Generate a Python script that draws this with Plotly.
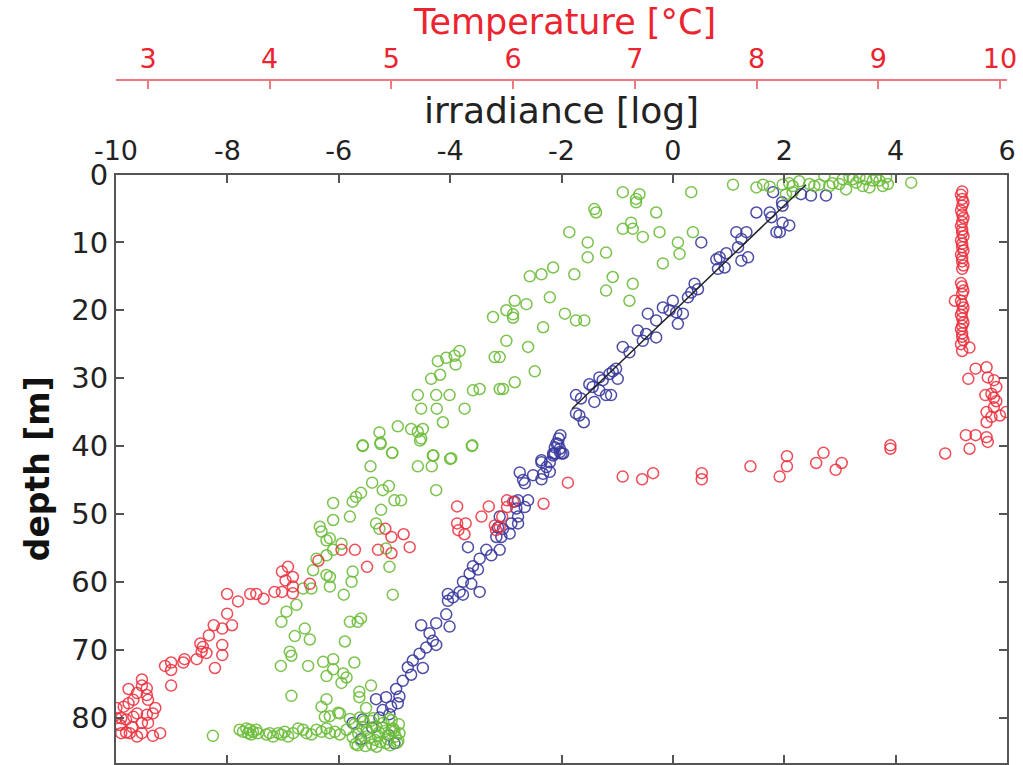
import plotly.graph_objects as go

# ---------------- data ----------------
irr_ticks = [-10, -8, -6, -4, -2, 0, 2, 4, 6]
temp_ticks = [3, 4, 5, 6, 7, 8, 9, 10]
depth_ticks = [0, 10, 20, 30, 40, 50, 60, 70, 80]

blue_irr = [1.80, 2.30, 2.48, 2.75, 1.96, 1.97, 1.50, 1.74, 1.77, 1.97, 2.09, 1.86, 1.92, 0.51, 1.14, 1.32,
            1.23, 1.17, 1.35, 1.23, 0.78, 0.84, 0.96, 0.81, 0.93, 0.39, 0.45, 0.33, 0.27, 0.00, -0.18, -0.06,
            0.06, 0.18, -0.45, -0.30, 0.09, -0.63, -0.48, -0.54, -0.30, -0.90, -0.78, -1.02, -1.08, -1.14,
            -1.32, -1.26, -0.99, -1.50, -1.44, -1.32, -1.74, -1.65, -1.20, -1.11, -1.41, -1.74, -1.68, -1.60,
            -2.02, -2.05, -2.09, -2.12, -2.03, -2.15, -1.97, -2.36,
            -2.06, -2.03, -2.12, -2.00, -2.15, -2.21, -2.36, -2.27, -2.21, -2.33, -2.75, -2.69, -2.66, -2.51,
            -2.36, -2.78, -2.60, -2.84, -2.66, -2.81, -2.78, -2.78, -2.90, -3.05, -2.93, -3.08, -3.11,
            -3.11, -3.14, -3.17, -3.68, -3.35, -3.26, -3.47, -3.59, -3.50, -3.65, -3.77, -3.62, -3.47, -3.83,
            -4.04, -4.04, -3.77, -3.95, -4.07, -4.01, -4.25, -4.52, -4.37, -4.31, -4.43, -4.25, -4.55, -4.67,
            -4.49, -4.76, -4.70, -4.85, -4.97, -4.91, -5.15, -5.33, -5.06, -4.94, -5.21, -5.09, -5.27, -5.57,
            -5.75, -5.40, -5.10, -5.60, -5.00]
blue_depth = [2.6, 2.9, 3.1, 3.1, 4.1, 4.6, 5.6, 5.6, 6.3, 7.1, 7.5, 8.5, 8.5, 10.0, 8.5, 8.5,
              9.5, 10.7, 12.2, 12.7, 12.5, 12.2, 11.6, 13.9, 13.7, 16.1, 16.9, 17.4, 18.1, 18.6, 19.6, 20.0,
              20.3, 20.5, 20.5, 21.5, 22.0, 23.0, 23.5, 24.5, 24.0, 25.4, 26.2, 28.6, 29.0, 29.4,
              29.9, 30.3, 30.1, 30.9, 31.3, 31.8, 32.5, 33.0, 32.5, 32.5, 33.5, 35.2, 35.5, 36.5,
              38.4, 38.9, 39.6, 40.2, 40.9, 41.1, 41.1, 42.1,
              39.7, 40.4, 41.1, 41.1, 41.4, 42.4, 42.4, 43.1, 43.8, 44.1, 43.9, 45.0, 45.5, 44.3,
              44.9, 48.0, 48.0, 48.2, 49.0, 49.2, 50.4, 51.4, 51.4, 52.2, 52.9, 53.4, 55.3,
              50.4, 52.0, 53.4, 54.9, 55.3, 56.1, 56.6, 57.7, 58.2, 58.8, 60.0, 60.3, 61.5, 61.5,
              61.8, 62.8, 61.9, 62.3, 64.8, 66.6, 66.1, 66.4, 67.6, 68.7, 69.7, 69.3, 70.6, 71.6,
              72.7, 72.6, 73.7, 74.6, 75.8, 76.9, 77.0, 77.3, 78.4, 77.9, 78.9, 79.5, 80.0, 80.3,
              80.8, 81.5, 82.6, 83.2, 83.8]

green_irr = [1.08, 1.50, 1.62, 1.74, 1.97, 2.09, 2.15, 2.27, 2.15, 2.03, 2.54, 2.63, 2.72, 2.81, 2.87, 3.11,
             3.05, 3.17, 3.23, 3.29, 3.35, 3.47, 3.53, 3.59, 3.65, 3.71, 3.77, 3.83, 3.86, 4.28, 2.99, 3.41, 2.45,
             -0.90, -0.60, -0.66, -0.66, -1.41, -1.38, 0.33, -0.30, -0.75, -0.90, -0.72, -0.54, -0.24, 0.36,
             -1.86, -1.53, 0.09, 0.12, -1.20, -1.53, -0.18, -2.15, -2.36, -2.57, -1.77, -1.08, -0.72, -1.20,
             -0.78, -2.21, -2.63, -2.84, -2.99, -2.87, -2.87, -1.94, -1.74, -1.59, -2.33, -2.99, -2.60, -3.11,
             -2.48, -2.84, -3.05,
             -3.23, -3.20, -3.11, -3.83, -3.92, -4.07, -4.22, -3.90, -4.34, -4.18, -4.58, -4.25, -4.01, -4.52,
             -4.24, -3.74, -3.59, -3.47, -4.13, -4.94, -4.70, -4.58, -4.49, -4.52, -5.27, -5.25, -5.57, -5.04,
             -4.31, -3.98, -3.61,
             -5.57, -5.25, -5.04, -4.54, -4.30, -4.00, -3.60, -5.43, -4.58, -4.33, -5.40, -5.21, -5.10, -4.25,
             -5.60, -5.69, -5.75, -6.10, -5.00, -4.88, -5.24, -5.80, -6.10, -6.34, -6.31, -6.16, -5.95, -6.22,
             -6.10, -6.22, -6.40, -5.15, -5.33, -5.27, -5.09, -6.46, -6.22, -6.16, -5.75, -5.77, -6.64, -6.49,
             -6.16, -5.91, -5.03, -6.76, -6.94, -7.03, -5.80, -5.66, -5.60, -6.61, -6.79, -6.52, -5.89, -6.88,
             -6.85, -7.04, -6.55, -6.28, -6.10, -5.72, -6.10, -6.22, -5.92, -5.86, -5.95, -5.42, -5.63, -5.63,
             -6.85, -6.22, -6.31, -5.98, -5.51, -6.16, -6.25, -6.01,
             -8.26, -7.78, -7.72, -7.66, -7.60, -7.54, -7.48, -7.63, -7.57, -7.45, -7.30, -7.24, -7.18, -7.09,
             -7.03, -6.97, -6.91, -6.82, -6.73, -6.64, -6.58, -6.49, -6.40, -6.31, -6.22, -6.16, -6.07, -5.98,
             -5.86,
             -5.80, -5.72, -5.65, -5.60, -5.55, -5.50, -5.45, -5.40, -5.38, -5.33, -5.30, -5.25, -5.20, -5.17,
             -5.12, -5.08, -5.05, -5.02, -4.98, -4.95, -4.92, -4.91, -5.70, -5.62, -5.48, -5.35, -5.22, -5.10,
             -5.00, -4.93, -5.75, -5.58, -5.42, -5.28, -5.15, -5.05, -5.66, -5.52, -5.32]
green_depth = [1.5, 1.9, 1.5, 1.8, 1.5, 1.3, 1.7, 1.0, 2.6, 2.9, 1.7, 1.5, 0.2, 1.7, 1.3, 2.2,
               0.7, 0.3, 0.7, 1.2, 0.4, 0.7, 1.9, 0.9, 0.3, 0.9, 1.7, 0.4, 1.4, 1.2, 1.4, 1.7, 1.4,
               2.6, 2.9, 3.6, 4.1, 5.1, 5.6, 2.6, 5.6, 7.1, 8.0, 8.0, 9.2, 8.5, 8.5,
               8.5, 10.0, 10.0, 11.7, 11.5, 12.2, 13.1, 13.7, 14.7, 15.0, 14.7, 15.1, 16.1, 17.1,
               18.6, 18.1, 19.1, 18.6, 20.0, 20.6, 21.1, 20.5, 21.5, 21.5, 22.5, 24.5, 25.4, 26.9,
               29.0, 30.6, 31.6,
               21.0, 26.9, 31.6, 26.0, 26.7, 27.0, 27.5, 28.0, 30.1, 29.5, 32.5, 32.5, 32.5, 34.5,
               34.5, 34.5, 31.8, 31.6, 36.5, 37.1, 37.5, 37.9, 37.5, 38.9, 38.0, 39.5, 40.0, 41.0,
               41.4, 41.8, 40.0,
               39.9, 39.7, 41.0, 39.2, 41.4, 41.9, 39.9, 43.0, 43.0, 43.0, 45.4, 46.5, 45.9, 46.5,
               46.9, 47.5, 48.2, 48.4, 48.0, 48.0, 49.4, 50.4, 50.9, 51.9, 52.6, 53.6, 54.4, 53.9,
               55.3, 56.1, 56.6, 55.1, 51.4, 52.2, 57.8, 58.3, 59.0, 59.3, 58.5, 60.0, 61.0, 61.0,
               60.7, 61.9, 61.9, 63.4, 64.4, 65.9, 65.9, 65.9, 65.4, 66.9, 68.0, 68.5, 68.8, 70.3,
               70.9, 72.4, 72.4, 71.8, 71.4, 71.9, 72.9, 73.9, 73.5, 74.1, 74.9, 75.3, 76.2, 77.0,
               76.8, 77.3, 78.4, 79.4, 78.6, 79.8, 79.9, 79.3,
               82.7, 81.8, 82.1, 81.6, 81.8, 82.1, 81.8, 82.3, 82.5, 82.3, 82.5, 82.3, 82.8, 82.3,
               82.5, 82.1, 82.8, 82.3, 81.6, 81.8, 82.3, 82.5, 81.8, 82.1, 81.6, 82.3, 82.1, 82.5,
               81.8,
               80.2, 81.0, 82.4, 83.5, 80.6, 81.8, 83.0, 84.0, 80.1, 81.3, 82.6, 83.6, 80.8, 82.0,
               83.2, 84.1, 80.4, 81.6, 82.8, 83.7, 81.0, 82.3, 83.9, 80.0, 82.2, 83.3, 81.5, 80.2,
               82.0, 83.4, 82.9, 81.4, 80.5, 82.2, 83.8, 81.9, 84.1, 84.2, 84.3]

red_temp = [9.69, 9.68, 9.69, 9.70, 9.69, 9.68, 9.69, 9.70, 9.69, 9.68, 9.69, 9.69, 9.70, 9.68, 9.69, 9.69,
            9.70, 9.68, 9.69, 9.69, 9.70, 9.69, 9.68, 9.69, 9.70, 9.69, 9.68, 9.69, 9.70, 9.69, 9.68, 9.69,
            9.70, 9.69, 9.68, 9.69, 9.69, 9.70, 9.68, 9.69, 9.63, 9.75,
            9.80, 9.89, 9.74, 9.90, 9.95, 9.97, 9.93, 9.95, 9.97, 9.88, 9.95, 9.89, 9.93, 10.00, 10.05,
            9.89, 9.72, 9.80, 9.89, 9.90, 9.75, 9.55, 9.10, 9.10, 8.55, 8.25,
            8.49, 8.70, 8.65, 8.25, 8.19, 7.95, 7.55, 7.55, 7.15, 7.06, 6.90, 6.45, 6.25, 6.00, 5.95, 5.95,
            5.91, 5.89,
            5.54, 5.80, 5.74, 5.54, 5.61, 5.55, 5.60, 5.85, 5.86, 4.95, 5.00, 5.10, 5.15, 4.89, 5.00, 4.70,
            4.59, 4.80, 4.40, 4.33, 4.15, 4.10, 4.13, 4.19, 4.19, 4.19, 4.04, 4.10, 3.65, 3.74, 3.84, 3.89,
            3.95, 3.54, 3.65, 3.61, 3.69, 3.50, 3.43, 3.45, 3.48, 3.61, 3.61, 3.55, 3.30, 3.29, 3.19, 3.14,
            3.19, 3.19, 3.40, 3.44,
            2.95, 2.95, 2.99, 2.99, 3.00, 2.91, 2.84, 2.88, 2.84, 2.80, 2.74, 2.74, 2.78, 2.82, 2.88, 2.91,
            2.95, 3.00, 3.06, 3.04, 2.99, 2.87, 2.82, 2.78, 2.85, 2.95, 3.04, 3.10, 2.77, 2.91]
red_depth = [2.5, 3.0, 3.6, 4.1, 4.6, 5.3, 5.9, 6.4, 7.0, 7.6, 8.1, 8.6, 9.1, 9.7, 10.2, 10.7,
             11.2, 11.8, 12.3, 12.8, 13.4, 13.9, 16.0, 16.5, 17.1, 17.6, 18.6, 19.1, 19.6, 20.2, 20.7, 21.2,
             21.8, 22.3, 22.8, 23.4, 23.9, 24.4, 25.0, 26.0, 18.6, 25.5,
             28.6, 28.4, 30.1, 29.9, 30.3, 31.3, 32.3, 32.9, 33.4, 32.5, 34.3, 35.0, 35.7, 35.5, 35.0,
             36.5, 38.4, 38.4, 38.7, 39.4, 40.4, 41.1, 39.9, 40.4, 41.0, 41.5,
             42.5, 42.5, 43.5, 43.0, 44.5, 43.0, 44.0, 44.9, 44.0, 44.9, 44.5, 45.4, 48.5, 48.2, 48.0, 49.0,
             50.4, 51.9,
             48.9, 48.9, 50.4, 51.4, 51.4, 52.4, 53.0, 51.7, 52.4, 52.2, 53.4, 53.0, 54.9, 55.3, 55.8, 55.3,
             55.3, 57.8, 56.9, 60.3, 57.8, 58.5, 59.8, 59.3, 60.7, 61.7, 61.5, 61.5, 61.8, 62.9, 61.8, 61.8,
             62.5, 66.4, 64.7, 66.9, 66.4, 67.9, 69.1, 69.6, 70.5, 69.3, 70.8, 72.7, 71.4, 71.9, 71.9, 72.4,
             73.0, 75.3, 71.4, 70.3,
             74.4, 75.3, 75.7, 76.7, 77.4, 76.4, 75.8, 77.4, 77.9, 78.4, 78.6, 80.1, 80.1, 80.3, 79.9, 79.4,
             80.8, 80.8, 78.6, 79.4, 79.6, 81.4, 82.2, 82.3, 82.3, 82.3, 82.7, 82.3, 81.1, 82.8]

fit_irr = [-1.81, 2.39]
fit_depth = [34.5, 1.5]

# ---------------- styling ----------------
FONT = "DejaVu Sans"
RED = "#ec2430"
RED_MK = "rgba(236,45,58,0.85)"
GREEN_MK = "rgba(108,188,58,0.9)"
BLUE_MK = "rgba(58,58,158,0.9)"
AXC = "#555555"

fig = go.Figure()

def circles(x, y, color, xaxis="x"):
    return go.Scatter(x=x, y=y, mode="markers", xaxis=xaxis, yaxis="y", showlegend=False,
                      marker=dict(symbol="circle-open", size=11, color=color,
                                  line=dict(width=1.5, color=color)))

fig.add_trace(circles(blue_irr, blue_depth, BLUE_MK))
fig.add_trace(circles(red_temp, red_depth, RED_MK, xaxis="x2"))
fig.add_trace(circles(green_irr, green_depth, GREEN_MK))
fig.add_trace(go.Scatter(x=fit_irr, y=fit_depth, mode="lines", showlegend=False,
                         line=dict(color="#222222", width=1.5)))

W, H = 1023, 765
ml, mr, mt, mb = 116, 16, 60, 2
ph = H - mt - mb
frame_top = 174.5
temp_line = 80
ydom_top = (H - mb - frame_top) / ph
temp_pos = (H - mb - temp_line) / ph
temp_title_y = (H - mb - 22) / ph

fig.update_layout(
    width=W, height=H,
    margin=dict(l=ml, r=mr, t=mt, b=mb, autoexpand=False),
    paper_bgcolor="white", plot_bgcolor="white",
    font=dict(family=FONT, color="#222222"),
    xaxis=dict(
        side="top", range=[-10, 6], tickvals=irr_ticks, ticktext=[str(v) for v in irr_ticks],
        ticks="inside", ticklen=8, tickwidth=1.5, tickcolor=AXC,
        showline=True, linecolor=AXC, linewidth=2, mirror="ticks",
        showgrid=False, zeroline=False, ticklabelstandoff=2,
        tickfont=dict(size=27, family=FONT, color="#222222"),
        title=dict(text="irradiance [log]", font=dict(size=36, family=FONT, color="#222222"), standoff=0),
        automargin=False,
    ),
    xaxis2=dict(
        overlaying="x", side="top", anchor="free", position=temp_pos,
        range=[2.737, 10.058], tickvals=temp_ticks, ticktext=[str(v) for v in temp_ticks],
        ticks="inside", ticklen=8, tickwidth=1.5, tickcolor="#f07880",
        showline=True, linecolor="#f07880", linewidth=2,
        showgrid=False, zeroline=False,
        tickfont=dict(size=27, family=FONT, color=RED),
        automargin=False,
    ),
    yaxis=dict(
        domain=[0, ydom_top], range=[86.7, 0], tickvals=depth_ticks, ticktext=[str(v) for v in depth_ticks],
        ticks="inside", ticklen=8, tickwidth=1.5, tickcolor=AXC,
        showline=True, linecolor=AXC, linewidth=2, mirror="ticks",
        showgrid=False, zeroline=False,
        tickfont=dict(size=29, family=FONT, color="#222222"),
        title=dict(text="<b>depth [m]</b>", font=dict(size=33, family=FONT, color="#111111"), standoff=12),
        automargin=False,
    ),
    annotations=[dict(
        text="Temperature [°C]", xref="paper", yref="paper", x=0.503, y=temp_title_y,
        xanchor="center", yanchor="middle", showarrow=False, borderpad=0,
        font=dict(size=35, family=FONT, color=RED),
    )],
)

fig.write_html("out.html")
